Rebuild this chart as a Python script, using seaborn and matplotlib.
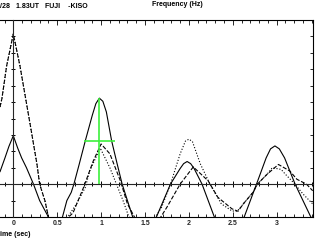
import numpy as np
import pandas as pd
import matplotlib.pyplot as plt
import seaborn as sns
from matplotlib.ticker import MultipleLocator, FuncFormatter

sns.set_style('white')
plt.rcParams['font.family'] = ['Liberation Sans', 'DejaVu Sans']

# solid curve
solid_t = [-0.152, -0.095, -0.05, 0.0, 0.05, 0.095, 0.15, 0.23, 0.30, 0.40, 0.48,
           0.56, 0.61, 0.66, 0.69, 0.75, 0.82, 0.90, 0.94, 0.98, 1.02, 1.06, 1.12,
           1.18, 1.24, 1.36, 1.50, 1.63, 1.79, 1.90, 1.94, 1.98, 2.02, 2.06, 2.15,
           2.29, 2.45, 2.63, 2.77, 2.88, 2.93, 2.98, 3.03, 3.09, 3.21, 3.38, 3.41]
solid_v = [0.75, 1.6, 2.3, 2.95, 2.2, 1.6, 1.0, 0.0, -1.0, -2.0, -2.8,
           -2.0, -1.0, -0.5, 0.0, 1.2, 2.64, 4.2, 4.9, 5.24, 5.05, 4.4, 2.64,
           1.3, 0.0, -2.0, -2.8, -2.0, 0.0, 0.95, 1.25, 1.38, 1.25, 0.95, 0.0,
           -2.0, -2.8, -2.0, 0.0, 1.6, 2.15, 2.33, 2.15, 1.6, 0.0, -1.9, -2.2]

# dashed curve
dash_t = [-0.152, -0.13, -0.076, 0.0, 0.076, 0.19, 0.27, 0.30, 0.36, 0.40, 0.50,
          0.63, 0.68, 0.80, 0.91, 1.00, 1.10, 1.22, 1.30, 1.38, 1.50, 1.68, 1.75,
          1.90, 2.05, 2.22, 2.33, 2.49, 2.56, 2.62, 2.73, 2.78, 2.89, 3.02, 3.15,
          3.23, 3.34, 3.41]
dash_v = [4.7, 5.2, 7.2, 9.15, 7.2, 3.7, 1.2, 0.0, -1.0, -2.0, -3.0,
          -2.0, -1.75, -0.2, 1.4, 2.45, 1.85, 0.2, -1.2, -2.0, -3.0, -2.0, -1.4,
          0.0, 1.05, 0.2, -0.8, -1.5, -1.65, -1.2, -0.5, 0.0, 0.6, 1.2, 0.8,
          0.3, 0.0, -0.4]

# dotted curve
dot_t = [-0.152, -0.13, -0.076, 0.0, 0.076, 0.19, 0.27, 0.30, 0.36, 0.40, 0.50,
         0.62, 0.72, 0.82, 0.87, 0.99, 1.10, 1.25, 1.31, 1.36, 1.50, 1.62, 1.69,
         1.79, 1.90, 1.96, 2.00, 2.04, 2.13, 2.24, 2.37, 2.49, 2.55, 2.62, 2.73,
         2.78, 2.89, 2.95, 3.05, 3.10, 3.20, 3.30, 3.41]
dot_v = [4.7, 5.2, 7.2, 9.15, 7.2, 3.7, 1.2, 0.0, -1.0, -2.0, -3.0,
         -2.0, -1.2, -0.2, 0.8, 2.2, 1.0, -1.0, -1.9, -2.3, -3.0, -2.0, -1.4,
         0.0, 1.84, 2.62, 2.74, 2.6, 1.24, 0.0, -1.2, -1.63, -1.65, -1.2, -0.5,
         0.0, 0.6, 1.0, 0.9, 0.6, 0.05, -0.6, -1.2]

# green marker: peak and half-maximum width
peak_t = 0.98
peak_v = 5.24
half_v = 2.62
half_t0, half_t1 = 0.80, 1.16

fig = plt.figure(figsize=(3.15, 2.4), dpi=100)
rect = [0, 23 / 240, 312.5 / 315, 197 / 240]
ax = fig.add_axes(rect)
xlim = (-0.1515, 3.408)
ylim = (-2, 10)

kw = dict(ax=ax, color='black', lw=0.8, sort=False, estimator=None)
sns.lineplot(x=solid_t, y=solid_v, **kw)
sns.lineplot(x=dash_t, y=dash_v, linestyle='--', dashes=(7, 5), **kw)
sns.lineplot(x=dot_t, y=dot_v, linestyle=':', dashes=(1, 3.5), **kw)

green = '#3cf03c'
ax.vlines(peak_t, 0, peak_v, color=green, lw=1.2, zorder=5)
ax.hlines(half_v, half_t0, half_t1, color=green, lw=1.2, zorder=5)

ax.set_xlim(*xlim)
ax.set_ylim(*ylim)
ax.spines['left'].set_visible(False)
for s in ['top', 'bottom', 'right']:
    ax.spines[s].set_linewidth(0.8)
    ax.spines[s].set_color('black')
ax.xaxis.set_major_locator(MultipleLocator(0.5))
ax.xaxis.set_minor_locator(MultipleLocator(0.1))
ax.xaxis.set_major_formatter(FuncFormatter(lambda v, p: '%g' % v))
ax.yaxis.set_major_locator(MultipleLocator(1))
ax.tick_params(axis='x', which='both', direction='in', top=True, bottom=True,
               width=0.7, pad=2, labelsize=5)
ax.tick_params(axis='x', which='major', length=3.5)
ax.tick_params(axis='x', which='minor', length=2)
ax.tick_params(axis='y', left=False, right=True, labelleft=False, direction='in',
               length=2.2, width=0.7)
for lab in ax.get_xticklabels():
    lab.set_fontweight('bold')

# zero lines through the middle
ax2 = fig.add_axes(rect, facecolor='none')
ax2.set_xlim(*xlim)
ax2.set_ylim(*ylim)
ax2.spines['top'].set_visible(False)
ax2.spines['right'].set_visible(False)
ax2.spines['bottom'].set_position(('data', 0))
ax2.spines['left'].set_position(('data', 0))
ax2.spines['bottom'].set_linewidth(0.8)
ax2.spines['left'].set_linewidth(0.8)
ax2.xaxis.set_major_locator(MultipleLocator(0.5))
ax2.xaxis.set_minor_locator(MultipleLocator(0.1))
ax2.yaxis.set_major_locator(MultipleLocator(1))
ax2.tick_params(which='both', direction='inout', bottom=True, left=True,
                top=False, right=False, labelbottom=False, labelleft=False,
                width=0.7, color='black')
ax2.tick_params(axis='x', which='major', length=4.5)
ax2.tick_params(axis='x', which='minor', length=3)
ax2.tick_params(axis='y', length=3.5)

fs = dict(fontsize=5, fontweight='bold', color='black')
fig.text(0, 1 - 6 / 240, "/28   1.83UT   FUJI    -KISO", ha='left', va='center', **fs)
fig.text(177 / 315, 1 - 4 / 240, "Frequency (Hz)", ha='center', va='center', **fs)
fig.text(0, 1 - 235 / 240, "ime (sec)", ha='left', va='center', **fs)

fig.savefig('out.png', dpi=100)
